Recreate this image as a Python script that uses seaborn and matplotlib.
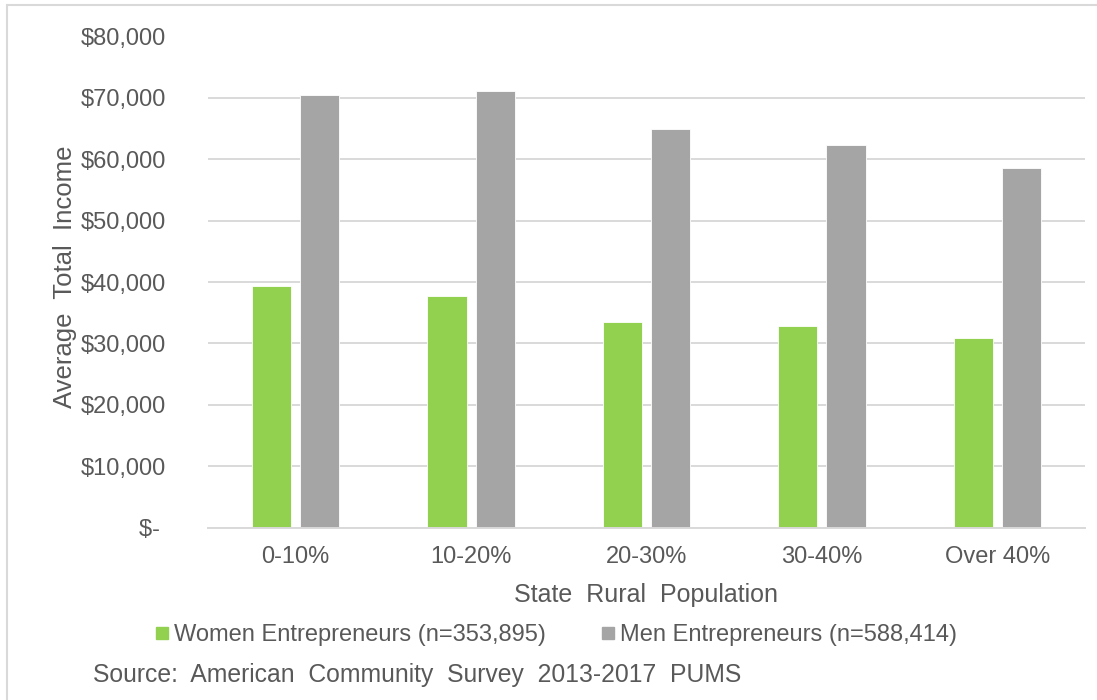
import matplotlib
matplotlib.use("Agg")
import matplotlib.pyplot as plt
from matplotlib.lines import Line2D
import seaborn as sns
import pandas as pd

categories = ["0-10%", "10-20%", "20-30%", "30-40%", "Over 40%"]
women = [39400, 37800, 33500, 32900, 30900]
men = [70500, 71200, 65000, 62400, 58500]
series_names = ["Women Entrepreneurs (n=353,895)", "Men Entrepreneurs (n=588,414)"]
yticks = [0, 10000, 20000, 30000, 40000, 50000, 60000, 70000, 80000]
ytick_labels = ["$- ", "$10,000", "$20,000", "$30,000", "$40,000", "$50,000",
                "$60,000", "$70,000", "$80,000"]

GREEN = "#92D050"
GRAY = "#A5A5A5"
TEXT = "#595959"
GRID = "#D9D9D9"

df = pd.DataFrame({
    "region": categories * 2,
    "income": women + men,
    "gender": [series_names[0]] * len(categories) + [series_names[1]] * len(categories),
})

sns.set_theme(style="white")
plt.rcParams["font.family"] = ["Liberation Sans", "DejaVu Sans"]

W, H = 1097, 700
fig = plt.figure(figsize=(W / 100, H / 100), dpi=100)
ax = fig.add_axes([208 / W, 1 - 527.5 / H, 877 / W, 491 / H])

sns.barplot(data=df, x="region", y="income", hue="gender",
            palette=[GREEN, GRAY], width=0.55, gap=0.19, ax=ax,
            legend=False, edgecolor="white", linewidth=0.6, saturation=1)

ax.set_ylim(0, 80000)
ax.set_yticks(yticks)
ax.set_yticklabels(ytick_labels)
ax.set_xlim(-0.5, len(categories) - 0.5)
ax.grid(axis="y", color=GRID, linewidth=1.4)
ax.set_axisbelow(True)
for s in ["top", "right", "left"]:
    ax.spines[s].set_visible(False)
ax.spines["bottom"].set_color(GRID)
ax.spines["bottom"].set_linewidth(1.4)

ax.tick_params(axis="y", length=0, pad=30, labelsize=17, labelcolor=TEXT)
ax.tick_params(axis="x", length=0, pad=13, labelsize=17, labelcolor=TEXT)

ax.set_xlabel("State  Rural  Population", fontsize=18, color=TEXT, va="center")
ax.xaxis.set_label_coords(0.5, -(595 - 527.5) / 491)
ax.set_ylabel("Average  Total  Income", fontsize=18.5, color=TEXT, va="center")
ax.yaxis.set_label_coords((65 - 208) / 877, (527.5 - 277) / 491)

handles = [Line2D([], [], linestyle="none", marker="s", markersize=8,
                  markerfacecolor=c, markeredgecolor=c) for c in (GREEN, GRAY)]
fig.legend(handles, series_names, loc="center", ncol=2,
           bbox_to_anchor=(557 / W, 1 - 635 / H), frameon=False,
           fontsize=17, labelcolor=TEXT, handlelength=0.45,
           handletextpad=0.3, columnspacing=2.4, borderaxespad=0)

fig.text(93 / W, 1 - 675 / H, "Source:  American  Community  Survey  2013-2017  PUMS",
         fontsize=17.8, color=TEXT, va="center", ha="left")

# light outer frame of the chart area
fig.add_artist(Line2D([6.5 / W, 6.5 / W], [0, 1 - 5 / H], transform=fig.transFigure,
                      color=GRID, linewidth=1.5))
fig.add_artist(Line2D([6.5 / W, 1], [1 - 5 / H, 1 - 5 / H], transform=fig.transFigure,
                      color=GRID, linewidth=1.5))

fig.savefig("out.png", dpi=100)
